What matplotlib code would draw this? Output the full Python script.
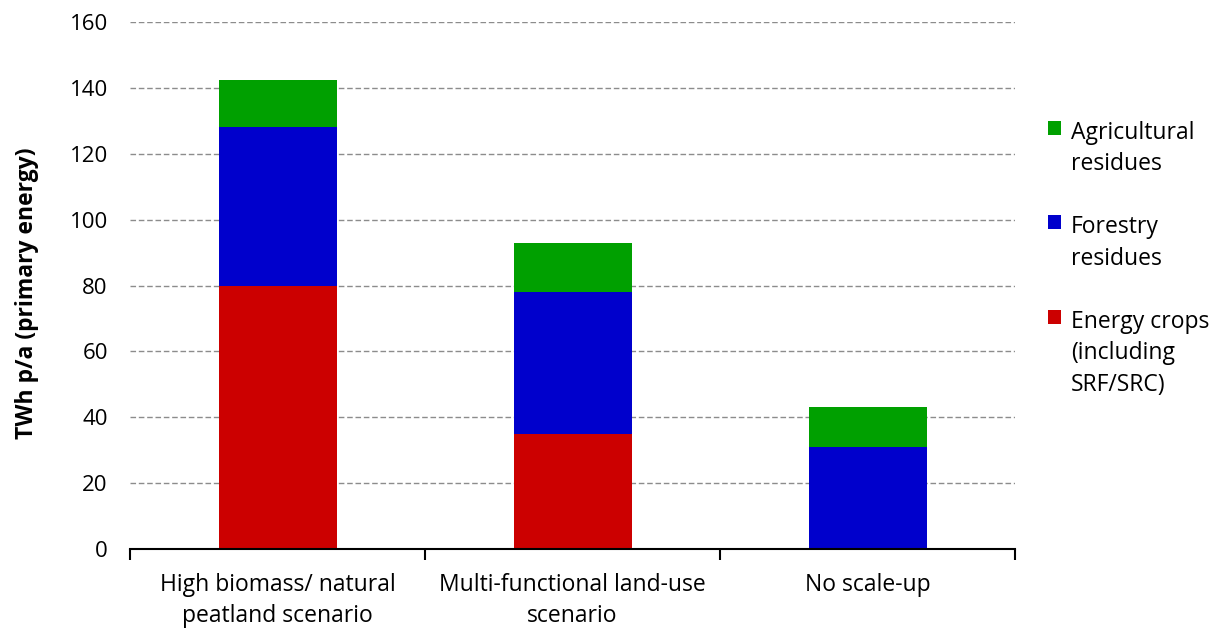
import matplotlib

matplotlib.use("Agg")
import matplotlib.pyplot as plt
import numpy as np

# Datos (TWh p/a)
scenarios = ["High biomass/ natural\npeatland scenario",
             "Multi-functional land-use\nscenario",
             "No scale-up"]
energy_crops = [80, 35, 0]
forestry = [48, 43, 31]
agricultural = [14.4, 15, 12]

series_labels = ["Energy crops\n(including\nSRF/SRC)", "Forestry\nresidues", "Agricultural\nresidues"]
colors = ["#CC0000", "#0000CC", "#00A000"]

plt.rcParams["font.family"] = ["Open Sans", "DejaVu Sans"]

fig = plt.figure(figsize=(12.19, 6.28), dpi=100)
ax = fig.add_axes([130 / 1219, 1 - 549 / 628, 885 / 1219, 527 / 628])

x = np.arange(len(scenarios))
bottom = np.zeros(len(scenarios))
handles = []
for vals, lab, col in zip([energy_crops, forestry, agricultural], series_labels, colors):
    h = ax.bar(x, vals, bottom=bottom, width=0.4, color=col, label=lab, zorder=3)
    handles.append(h)
    bottom += np.array(vals)

ax.set_xlim(-0.5, 2.5)
ax.set_ylim(0, 160)
ax.set_yticks(range(0, 161, 20))
ax.yaxis.grid(True, linestyle=(0, (4, 2)), color="#8c8c8c", linewidth=1, zorder=0)
ax.set_axisbelow(True)

for s in ["top", "right", "left"]:
    ax.spines[s].set_visible(False)
ax.spines["bottom"].set_linewidth(1.5)
ax.spines["bottom"].set_zorder(4)

ax.set_xticks(x)
ax.set_xticklabels(scenarios, fontsize=16.5, linespacing=1.42)
ax.tick_params(axis="x", which="major", length=0, pad=17)
ax.set_xticks([-0.5, 0.5, 1.5, 2.5], minor=True)
ax.tick_params(axis="x", which="minor", length=8, width=1.5, direction="out")
ax.tick_params(axis="y", length=0, labelsize=16, pad=16)

ax.set_ylabel("TWh p/a (primary energy)", fontsize=16.5, fontweight="bold", labelpad=22)
ax.yaxis.label.set_y(0.486)

leg = ax.legend(handles[::-1], series_labels[::-1], loc="upper left",
                bbox_to_anchor=(1.027, 0.83), frameon=False, fontsize=16.5,
                handlelength=0.55, handleheight=0.55, handletextpad=0.45,
                labelspacing=1.7, borderaxespad=0)
for t in leg.get_texts():
    t.set_linespacing(1.42)
# cuadrado alineado con la primera línea de cada etiqueta
for col in leg._legend_handle_box.get_children():
    for row in col.get_children():
        row.align = "top"

fig.savefig("out.png", dpi=100)
plt.close(fig)
